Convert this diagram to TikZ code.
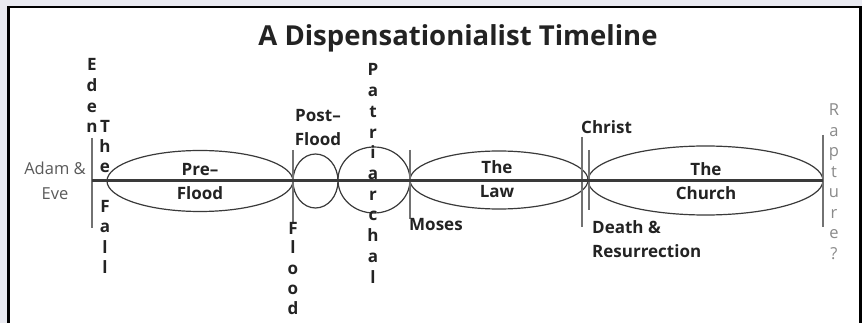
\documentclass[tikz,border=0pt]{standalone}
\usepackage{fontspec}
\setmainfont{Open Sans}
\usetikzlibrary{shapes.geometric}
\definecolor{bgc}{HTML}{E9EAF1}
\definecolor{inkc}{HTML}{232323}
\definecolor{linec}{HTML}{3A3A3A}
\definecolor{vlinec}{HTML}{727272}
\definecolor{grayt}{HTML}{5A5A5A}
\definecolor{rapt}{HTML}{8A8A8A}
\tikzset{
  lbl/.style={font=\bfseries\fontsize{17}{24}\selectfont, text=inkc, align=center, inner sep=0pt},
  lblL/.style={lbl, align=left},
  vlet/.style={font=\bfseries\fontsize{17}{17}\selectfont, text=inkc, inner sep=0pt, anchor=base},
  era/.style={ellipse, draw=linec, line width=1.2pt, inner sep=0pt},
  markline/.style={draw=vlinec, line width=2pt},
  mainline/.style={draw=linec, line width=3.2pt}
}
\begin{document}
\begin{tikzpicture}[x=1pt,y=-1pt]
\useasboundingbox (0,0) rectangle (862,323);
\fill[bgc] (0,0) rectangle (862,323);
\draw[fill=white, draw=black, line width=2.5pt] (8.5,7) rectangle (860.5,340);
% title
\node[font=\bfseries\fontsize{27.5}{27.5}\selectfont, text=inkc, inner sep=0pt, anchor=base] (title) at (458,46) {A Dispensationialist Timeline};
% ellipses
\node[era, minimum width=186pt, minimum height=61pt] (preflood) at (200,181) {};
\node[era, minimum width=45pt, minimum height=54pt] (postflood) at (315.5,181) {};
\node[era, minimum width=72pt, minimum height=66pt] (patri) at (374,180) {};
\node[era, minimum width=178pt, minimum height=58pt] (law) at (499,180) {};
\node[era, minimum width=235pt, minimum height=69pt] (church) at (705.5,180.5) {};
% vertical markers
\coordinate (edenT) at (92,138); \coordinate (edenB) at (92,228);
\coordinate (floodT) at (293,150); \coordinate (floodB) at (293,222);
\coordinate (mosesT) at (410,150); \coordinate (mosesB) at (410,219);
\coordinate (christT) at (582,137); \coordinate (christB) at (582,227);
\coordinate (deathT) at (589,150); \coordinate (deathB) at (589,210);
\coordinate (raptT) at (823,135); \coordinate (raptB) at (823,227);
\draw[markline] (edenT) -- (edenB);
\draw[markline] (floodT) -- (floodB);
\draw[markline] (mosesT) -- (mosesB);
\draw[markline] (christT) -- (christB);
\draw[markline] (deathT) -- (deathB);
\draw[markline] (raptT) -- (raptB);
% main line
\coordinate (start) at (92,180.5); \coordinate (end) at (823,180.5);
\draw[mainline] (start) -- (end);
% labels
\node[lbl, font=\fontsize{16.5}{25}\selectfont, text=grayt] (adam) at (55,181) {Adam \&\\Eve};
\node[lbl] (pre) at (200,182) {Pre–\\Flood};
\node[lbl] (post) at (318,128) {Post–\\Flood};
\node[lbl] (thelaw) at (497,179) {The\\Law};
\node[lbl] (thechurch) at (706,181) {The\\Church};
\node[lbl, anchor=base west] (moses) at (409,231) {Moses};
\node[lbl, anchor=base west] (christ) at (581,134) {Christ};
\node[lblL, anchor=north west] (death) at (592,220) {Death \&\\Resurrection};
% vertical words
\foreach \c [count=\i from 0] in {E,d,e,n}
  \node[vlet] (eden\i) at (92,71+20.6*\i) {\c};
\foreach \c [count=\i from 0] in {T,h,e,,F,a,l,l}
  \node[vlet] (fall\i) at (105,133+20*\i) {\c};
\foreach \c [count=\i from 0] in {F,l,o,o,d}
  \node[vlet] (flood\i) at (293,234+20*\i) {\c};
\foreach \c [count=\i from 0] in {P,a,t,r,i,a,r,c,h,a,l}
  \node[vlet] (pat\i) at (373,76+20.7*\i) {\c};
\foreach \c [count=\i from 0] in {R,a,p,t,u,r,e,?}
  \node[vlet, font=\fontsize{16.5}{16.5}\selectfont, text=rapt] (rap\i) at (834,116+20.5*\i) {\c};
\end{tikzpicture}
\end{document}
